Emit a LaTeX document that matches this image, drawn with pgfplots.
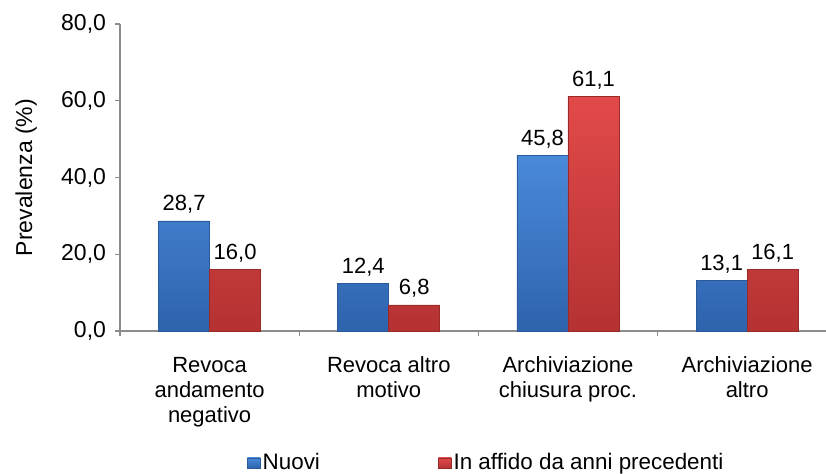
\documentclass[border=0pt]{standalone}
\usepackage{pgfplots}
\pgfplotsset{compat=1.18}
\usepackage{fontspec}
\setmainfont{Liberation Sans}
\definecolor{bluetop}{HTML}{4A8ADA}
\definecolor{bluebot}{HTML}{2E63AD}
\definecolor{blueedge}{HTML}{2A5A9C}
\definecolor{redtop}{HTML}{E24A4A}
\definecolor{redbot}{HTML}{B53232}
\definecolor{rededge}{HTML}{9A2A2A}
\definecolor{axisgray}{HTML}{8C8C8C}
\begin{document}
\begin{tikzpicture}
\path[use as bounding box] (0,0) rectangle (413bp,237bp);
\begin{axis}[
  at={(60bp,71.5bp)}, anchor=south west,
  scale only axis, width=353bp, height=153.5bp,
  ymin=0, ymax=80, ytick={0,20,40,60,80},
  xmin=-0.5, xmax=3.44,
  axis x line*=bottom, axis y line*=left,
  axis line style={draw=axisgray, line width=0.6pt},
  tick align=outside,
  major tick length=2.5bp,
  ytick style={draw=axisgray, line width=0.6pt},
  xtick={0,1,2,3},
  xticklabels={Revoca\\andamento\\negativo, Revoca altro\\motivo, Archiviazione\\chiusura proc., Archiviazione\\altro},
  xtick style={draw=none},
  extra x ticks={-0.5,0.5,1.5,2.5},
  extra x tick labels={},
  extra x tick style={xtick style={draw=axisgray, line width=0.6pt}},
  xticklabel style={font=\fontsize{11bp}{12.5bp}\selectfont, align=center, yshift=-7bp},
  yticklabel style={font=\fontsize{11.5bp}{13bp}\selectfont, xshift=-1bp},
  /pgf/number format/fixed,
  /pgf/number format/fixed zerofill,
  /pgf/number format/precision=1,
  /pgf/number format/use comma,
  /pgf/number format/assume math mode=true,
  ylabel={Prevalenza (\%)},
  every axis y label/.style={at={(axis description cs:-0.133,0.5)}, rotate=90, anchor=center, font=\fontsize{11.5bp}{13bp}\selectfont},
  ybar=0pt, bar width=25.5bp,
  nodes near coords,
  nodes near coords style={font=\fontsize{11bp}{13bp}\selectfont, inner sep=3.5bp},
  legend style={at={(axis description cs:0.171,-0.43)}, anchor=west, draw=none, fill=none,
    legend columns=2, font=\fontsize{11.2bp}{13bp}\selectfont,
    /tikz/every even column/.append style={column sep=58bp},
    nodes={inner sep=1bp}},
  legend image code/.code={\path[#1] (0bp,-2.6bp) rectangle (6.5bp,2.6bp);},
  clip=false,
]
\addplot[draw=blueedge, line width=0.3pt, top color=bluetop, bottom color=bluebot] coordinates {(0,28.7) (1,12.4) (2,45.8) (3,13.1)};
\addplot[draw=rededge, line width=0.3pt, top color=redtop, bottom color=redbot] coordinates {(0,16.0) (1,6.8) (2,61.1) (3,16.1)};
\legend{Nuovi, In affido da anni precedenti}
\end{axis}
\end{tikzpicture}
\end{document}
